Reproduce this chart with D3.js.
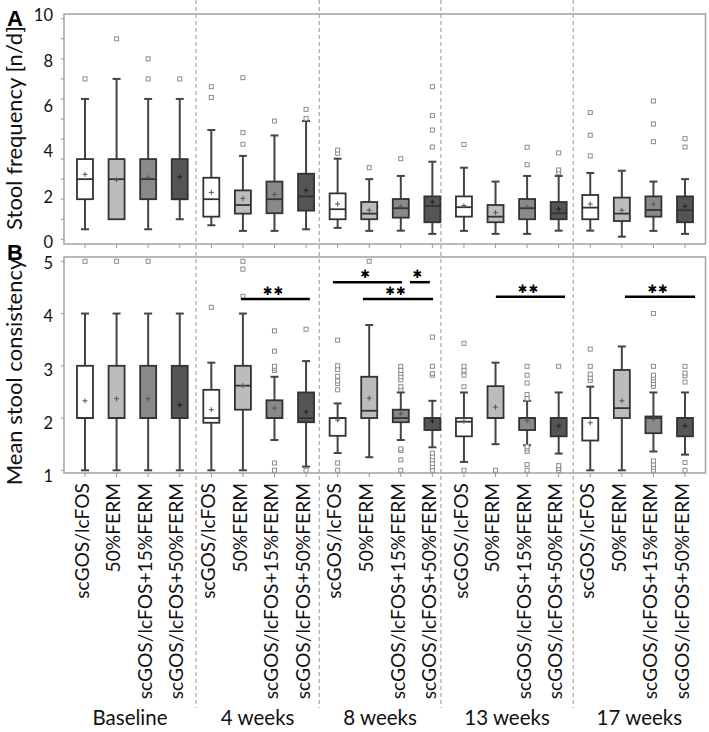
<!DOCTYPE html>
<html><head><meta charset="utf-8">
<script src="https://cdn.jsdelivr.net/npm/d3@7"></script>
<style>body{margin:0;background:#fff}svg{display:block}</style>
</head><body>
<script>
// ---------- DATA ----------
const groups = ["Baseline","4 weeks","8 weeks","13 weeks","17 weeks"];
const treatments = ["scGOS/lcFOS","50%FERM","scGOS/lcFOS+15%FERM","scGOS/lcFOS+50%FERM"];
// divider positions, in box-index units
const dividers = [3.515, 7.42, 11.27, 15.46];

// Panel A: stool frequency [n/d]
const freqLow  = [0.5,1,0.5,1, 0.7,0.42,0.42,0.5, 0.57,0.42,0.43,0.27, 0.42,0.27,0.27,0.43, 0.43,0.13,0.42,0.27];
const freqQ1   = [2,1,2,2, 1.13,1.28,1.3,1.43, 1.0,1.0,1.08,0.85, 1.13,0.85,1.0,1.0, 1.0,0.91,1.13,0.85];
const freqMed  = [3,3,3,2, 2,1.71,2,2.14, 1.5,1.28,1.55,1.66, 1.6,1.13,1.55,1.3, 1.58,1.28,1.46,1.45];
const freqQ3   = [4,4,4,4, 3.07,2.44,2.88,3.27, 2.29,1.86,2.01,2.14, 2.14,1.71,2.01,1.86, 2.21,2.08,2.14,2.14];
const freqHigh = [7,8,7,7, 5.45,4.16,5.18,5.9, 4.02,3.0,3.16,3.87, 3.57,2.88,3.16,3.16, 3.31,3.42,2.88,3.0];
const freqMean = [3.24,2.96,3.07,3.12, 2.34,2.04,2.24,2.44, 1.76,1.45,1.63,1.86, 1.68,1.33,1.6,1.51, 1.76,1.45,1.75,1.65];
const freqOut  = [[8],[10],[8,9],[8], [7.07,7.61],[4.74,5.32,8.06],[5.9],[6.03,6.48],
  [4.29,4.45],[3.57],[4.02],[4.6,5.45,6.17,7.61], [4.73],[],[3.72,4.59],[3.32,3.46,4.31],
  [4.16,5.19,6.32],[],[4.87,5.75,6.9],[4.6,5.02]];

// Panel B: mean stool consistency
const consLow  = [1,1,1,1, 1,1,1.58,1.07, 1.33,1.25,1.58,1.44, 1.16,1.5,1.48,1.32, 1,1,1.36,1.3];
const consQ1   = [2,2,2,2, 1.91,2.16,2.0,1.92, 1.66,2.0,1.92,1.77, 1.65,2.0,1.77,1.65, 1.57,2.0,1.71,1.65];
const consMed  = [2,2,2,2, 2.0,2.62,2.0,2.0, 2.0,2.14,2.0,2.0, 1.93,2.0,2.0,2.0, 2.0,2.19,2.0,2.0];
const consQ3   = [3,3,3,3, 2.54,3.0,2.34,2.49, 2.0,2.79,2.16,2.0, 2.0,2.61,2.0,2.0, 2.0,2.92,2.03,2.0];
const consHigh = [4,4,4,4, 3.06,4,2.79,3.09, 2.28,3.78,2.49,2.33, 2.49,3.06,2.33,2.49, 2.6,3.37,2.49,2.49];
const consMean = [2.33,2.37,2.37,2.25, 2.16,2.62,2.19,2.12, 1.96,2.38,2.08,1.94, 1.94,2.21,1.95,1.85, 1.91,2.33,1.98,1.85];
const consOut  = [[5],[5],[5],[], [4.12],[4.33,4.85,5],[1,1.14,2.91,2.95,2.99,3.28,3.67],[1,3.7],
  [1,1.14,2.54,2.66,2.71,2.8,2.93,3.0,3.49],[5],[1,1.2,1.38,1.41,2.55,2.6,2.73,2.79,2.85,2.91,2.99],[1,1.07,1.13,1.2,1.26,1.33,2.82,2.85,2.99,3.55],
  [1,2.6,2.82,2.91,2.99,3.43],[1],[1,1.11,1.36,1.41,1.45,2.37,2.45,2.67,2.82,2.99],[1,1.04,1.09,2.99],
  [2.72,2.77,2.84,2.99,3.32],[],[1,1.06,1.11,1.18,2.61,2.66,2.72,2.77,2.82,2.99,4.0],[1,1.15,2.69,2.81,2.86,2.99]];

// significance bars (box-index units, value units)
const sigFrom  = [4.94, 7.85, 10.29, 8.8, 13.01, 17.1];
const sigTo    = [7.12, 10.04, 10.92, 11.02, 15.2, 19.32];
const sigLevel = [4.28, 4.60, 4.60, 4.28, 4.32, 4.32];
const sigLabel = ["✱✱","✱","✱","✱✱","✱✱","✱✱"];

const freqTicks = [0,2,4,6,8,10];
const consTicks = [1,2,3,4,5];

// ---------- DRAW ----------
const fills = ["#ffffff","#bcbcbc","#898989","#555555"];
const W = 709, H = 732;
const svg = d3.select("body").append("svg").attr("width",W).attr("height",H);
const font = "Lato, 'Open Sans', sans-serif";

const x = d3.scaleLinear().domain([0,19]).range([85,685]);
const plotL = 64, plotR = 705.5;
const yA = d3.scaleLinear().domain([0,10]).range([239.3,38.8]);
const yB = d3.scaleLinear().domain([1,5]).range([470.3,261.3]);
const yALab = d3.scaleLinear().domain([0,10]).range([242.5,15.5]);
const yBLab = d3.scaleLinear().domain([1,5]).range([476,263.5]);
const panA = {top:14, bottom:244}, panB = {top:257, bottom:473};

// frames
[panA,panB].forEach(p=>{
  svg.append("rect").attr("x",plotL).attr("y",p.top).attr("width",plotR-plotL).attr("height",p.bottom-p.top)
    .attr("fill","none").attr("stroke","#a3a3a3").attr("stroke-width",1.5);
});
// y minor ticks
svg.append("g").selectAll("line").data(d3.range(0,12)).join("line")
  .attr("x1",plotL-3).attr("x2",plotL).attr("y1",d=>yA(d)).attr("y2",d=>yA(d)).attr("stroke","#999");
svg.append("g").selectAll("line").data(d3.range(1,6)).join("line")
  .attr("x1",plotL-3).attr("x2",plotL).attr("y1",d=>yB(d)).attr("y2",d=>yB(d)).attr("stroke","#999");
// x ticks
const idx = d3.range(20);
[panA,panB].forEach(p=>{
  svg.append("g").selectAll("line").data(idx).join("line")
    .attr("x1",d=>x(d)).attr("x2",d=>x(d)).attr("y1",p.bottom).attr("y2",p.bottom+4).attr("stroke","#999");
});
// tick labels
svg.append("g").selectAll("text").data(freqTicks).join("text")
  .attr("x",53).attr("y",d=>yALab(d)).attr("dy","0.35em").attr("text-anchor","end")
  .attr("font-family",font).attr("font-size",16.5).attr("fill","#111").text(d=>d);
svg.append("g").selectAll("text").data(consTicks).join("text")
  .attr("x",53).attr("y",d=>yBLab(d)).attr("dy","0.35em").attr("text-anchor","end")
  .attr("font-family",font).attr("font-size",16.5).attr("fill","#111").text(d=>d);

// dividers
svg.append("g").selectAll("line").data(dividers).join("line")
  .attr("x1",d=>x(d)).attr("x2",d=>x(d)).attr("y1",0).attr("y2",708)
  .attr("stroke","#a8a8a8").attr("stroke-width",1.2).attr("stroke-dasharray","4,3");

function drawPanel(y, low, q1, med, q3, high, mean, outs){
  const g = svg.append("g");
  const bw = 16, cw = 8;
  idx.forEach(i=>{
    const cx = x(i), f = fills[i%4];
    const gg = g.append("g");
    if (high[i] > q3[i]) {
      gg.append("line").attr("x1",cx).attr("x2",cx).attr("y1",y(q3[i])).attr("y2",y(high[i])).attr("stroke","#444").attr("stroke-width",2);
      gg.append("line").attr("x1",cx-cw/2).attr("x2",cx+cw/2).attr("y1",y(high[i])).attr("y2",y(high[i])).attr("stroke","#444").attr("stroke-width",2);
    }
    if (low[i] < q1[i]) {
      gg.append("line").attr("x1",cx).attr("x2",cx).attr("y1",y(q1[i])).attr("y2",y(low[i])).attr("stroke","#444").attr("stroke-width",2);
      gg.append("line").attr("x1",cx-cw/2).attr("x2",cx+cw/2).attr("y1",y(low[i])).attr("y2",y(low[i])).attr("stroke","#444").attr("stroke-width",2);
    }
    gg.append("rect").attr("x",cx-bw/2).attr("width",bw).attr("y",y(q3[i])).attr("height",y(q1[i])-y(q3[i]))
      .attr("fill",f).attr("stroke","#333").attr("stroke-width",1.8);
    gg.append("line").attr("x1",cx-bw/2).attr("x2",cx+bw/2).attr("y1",y(med[i])).attr("y2",y(med[i])).attr("stroke","#333").attr("stroke-width",1.8);
    const my = y(mean[i]), mc = (i%4===3) ? "#1e1e1e" : "#555";
    gg.append("line").attr("x1",cx-2.5).attr("x2",cx+2.5).attr("y1",my).attr("y2",my).attr("stroke",mc).attr("stroke-width",1);
    gg.append("line").attr("x1",cx).attr("x2",cx).attr("y1",my-2.5).attr("y2",my+2.5).attr("stroke",mc).attr("stroke-width",1);
    gg.selectAll("rect.o").data(outs[i]).join("rect").attr("class","o")
      .attr("x",cx-2).attr("y",d=>y(d)-2).attr("width",4).attr("height",4)
      .attr("fill","#fff").attr("stroke","#8c8c8c").attr("stroke-width",1);
  });
}
drawPanel(yA, freqLow, freqQ1, freqMed, freqQ3, freqHigh, freqMean, freqOut);
drawPanel(yB, consLow, consQ1, consMed, consQ3, consHigh, consMean, consOut);

// significance
const sg = svg.append("g");
sigFrom.forEach((s,k)=>{
  sg.append("line").attr("x1",x(s)).attr("x2",x(sigTo[k])).attr("y1",yB(sigLevel[k])).attr("y2",yB(sigLevel[k]))
    .attr("stroke","#000").attr("stroke-width",2.5);
  sg.append("text").attr("x",(x(s)+x(sigTo[k]))/2 - 2).attr("y",yB(sigLevel[k]) - 8).attr("dy","0.35em")
    .attr("text-anchor","middle").attr("font-family","'DejaVu Sans', sans-serif").attr("font-size",11.5)
    .attr("letter-spacing",1).attr("fill","#000").text(sigLabel[k]);
});

// x labels
svg.append("g").selectAll("text").data(idx).join("text")
  .attr("transform",d=>`translate(${x(d)-3},483) rotate(-90)`).attr("dy","0.35em")
  .attr("text-anchor","end").attr("font-family",font).attr("font-size",19.2).attr("fill","#111")
  .text(d=>treatments[d%4]);

// group labels
const bounds = [plotL, ...dividers.map(d=>x(d)), plotR];
svg.append("g").selectAll("text").data(groups).join("text")
  .attr("x",(d,i)=>(bounds[i]+bounds[i+1])/2).attr("y",725).attr("text-anchor","middle")
  .attr("font-family",font).attr("font-size",20.5).attr("fill","#111").text(d=>d);

// axis titles
svg.append("text").attr("transform","translate(22,128) rotate(-90)").attr("text-anchor","middle")
  .attr("font-family",font).attr("font-size",22).attr("fill","#111").text("Stool frequency [n/d]");
svg.append("text").attr("transform","translate(22,372) rotate(-90)").attr("text-anchor","middle")
  .attr("font-family",font).attr("font-size",22).attr("fill","#111").text("Mean stool consistency");
svg.append("text").attr("x",7).attr("y",26).attr("font-family","'Liberation Sans', Arial, sans-serif")
  .attr("font-weight","bold").attr("font-size",22).text("A");
svg.append("text").attr("x",7).attr("y",260).attr("font-family","'Liberation Sans', Arial, sans-serif")
  .attr("font-weight","bold").attr("font-size",22).text("B");
</script>
</body></html>
